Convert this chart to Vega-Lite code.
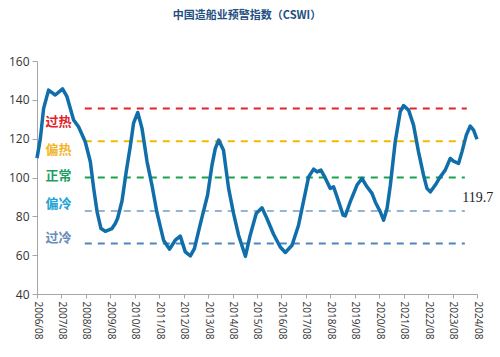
{
  "$schema": "https://vega.github.io/schema/vega-lite/v6.json",
  "width": 440,
  "height": 233,
  "autosize": {"type": "none"},
  "padding": {"left": 37, "top": 61, "right": 23, "bottom": 63},
  "background": "white",
  "config": {"view": {"stroke": null}, "axis": {"grid": false}},
  "title": {
    "text": "中国造船业预警指数（CSWI）",
    "font": "Noto Sans CJK SC",
    "fontSize": 11,
    "fontWeight": "bold",
    "color": "#1F4F82",
    "anchor": "middle",
    "dx": -10,
    "offset": 34
  },
  "datasets": {
    "cswi": [
      {"date": "2006-08-01", "v": 110},
      {"date": "2006-09-20", "v": 120},
      {"date": "2006-11-08", "v": 135.6},
      {"date": "2007-01-21", "v": 145},
      {"date": "2007-05-01", "v": 142.5},
      {"date": "2007-08-18", "v": 145.6},
      {"date": "2007-10-23", "v": 141.6},
      {"date": "2008-01-30", "v": 129.6},
      {"date": "2008-04-13", "v": 126.1},
      {"date": "2008-07-22", "v": 118.4},
      {"date": "2008-10-06", "v": 108.1},
      {"date": "2008-11-25", "v": 94.4},
      {"date": "2009-01-15", "v": 82.3},
      {"date": "2009-03-14", "v": 73.7},
      {"date": "2009-05-17", "v": 72.3},
      {"date": "2009-08-25", "v": 73.7},
      {"date": "2009-10-14", "v": 76.3},
      {"date": "2009-11-18", "v": 79},
      {"date": "2010-01-23", "v": 88},
      {"date": "2010-03-26", "v": 103},
      {"date": "2010-05-25", "v": 115.8},
      {"date": "2010-07-14", "v": 128},
      {"date": "2010-09-15", "v": 133.5},
      {"date": "2010-11-17", "v": 125.3},
      {"date": "2011-02-01", "v": 108.1},
      {"date": "2011-04-15", "v": 96},
      {"date": "2011-06-28", "v": 82},
      {"date": "2011-10-05", "v": 67.7},
      {"date": "2012-01-04", "v": 63.1},
      {"date": "2012-03-28", "v": 67.7},
      {"date": "2012-06-11", "v": 69.8},
      {"date": "2012-08-25", "v": 61.7},
      {"date": "2012-11-09", "v": 59.6},
      {"date": "2013-01-08", "v": 63.4},
      {"date": "2013-04-06", "v": 76},
      {"date": "2013-07-24", "v": 91},
      {"date": "2013-09-28", "v": 106.4},
      {"date": "2013-11-17", "v": 115},
      {"date": "2014-01-06", "v": 119.3},
      {"date": "2014-03-19", "v": 114},
      {"date": "2014-06-03", "v": 94.4},
      {"date": "2014-08-16", "v": 81.5},
      {"date": "2014-10-30", "v": 70.3},
      {"date": "2015-02-09", "v": 59.4},
      {"date": "2015-04-22", "v": 70.3},
      {"date": "2015-07-21", "v": 81.5},
      {"date": "2015-10-15", "v": 84.4},
      {"date": "2015-12-28", "v": 78.9},
      {"date": "2016-04-05", "v": 70.8},
      {"date": "2016-07-14", "v": 64.2},
      {"date": "2016-09-28", "v": 61.4},
      {"date": "2017-01-06", "v": 65.1},
      {"date": "2017-04-13", "v": 75.4},
      {"date": "2017-07-22", "v": 92},
      {"date": "2017-09-11", "v": 100.3},
      {"date": "2017-11-25", "v": 104.3},
      {"date": "2018-01-15", "v": 102.9},
      {"date": "2018-03-14", "v": 103.8},
      {"date": "2018-05-17", "v": 99.8},
      {"date": "2018-07-31", "v": 94.4},
      {"date": "2018-09-19", "v": 95.2},
      {"date": "2018-11-18", "v": 89.2},
      {"date": "2019-02-08", "v": 80.6},
      {"date": "2019-03-12", "v": 80.2},
      {"date": "2019-05-25", "v": 87.4},
      {"date": "2019-09-04", "v": 96.1},
      {"date": "2019-11-17", "v": 99.5},
      {"date": "2020-02-01", "v": 95.2},
      {"date": "2020-04-15", "v": 91.8},
      {"date": "2020-06-03", "v": 87.4},
      {"date": "2020-08-17", "v": 82.3},
      {"date": "2020-10-05", "v": 78},
      {"date": "2020-11-26", "v": 84},
      {"date": "2021-01-14", "v": 96},
      {"date": "2021-03-28", "v": 118.4},
      {"date": "2021-06-11", "v": 133.9},
      {"date": "2021-07-30", "v": 137},
      {"date": "2021-10-14", "v": 134.7},
      {"date": "2021-12-27", "v": 127},
      {"date": "2022-03-11", "v": 113.2},
      {"date": "2022-05-25", "v": 101.2},
      {"date": "2022-07-15", "v": 94.4},
      {"date": "2022-09-03", "v": 92.6},
      {"date": "2022-11-17", "v": 96.1},
      {"date": "2023-01-20", "v": 99.8},
      {"date": "2023-04-14", "v": 103.8},
      {"date": "2023-06-28", "v": 109.8},
      {"date": "2023-08-16", "v": 108.4},
      {"date": "2023-10-30", "v": 107.2},
      {"date": "2023-12-20", "v": 113.2},
      {"date": "2024-02-23", "v": 121.8},
      {"date": "2024-04-22", "v": 126.5},
      {"date": "2024-06-11", "v": 124.4},
      {"date": "2024-08-01", "v": 119.7}
    ],
    "levels": [
      {"zone": "过热", "date": "2008-07-15", "end": "2024-03-01", "v": 135.6},
      {"zone": "偏热", "date": "2008-07-15", "end": "2024-02-01", "v": 118.7},
      {"zone": "正常", "date": "2008-07-15", "end": "2024-02-01", "v": 100},
      {"zone": "偏冷", "date": "2008-07-15", "end": "2024-02-01", "v": 82.8},
      {"zone": "过冷", "date": "2008-07-15", "end": "2024-02-01", "v": 66}
    ],
    "labels": [
      {"zone": "过热", "date": "2007-06-20", "v": 128.7},
      {"zone": "偏热", "date": "2007-06-20", "v": 114},
      {"zone": "正常", "date": "2007-06-20", "v": 100.7},
      {"zone": "偏冷", "date": "2007-06-20", "v": 86.3},
      {"zone": "过冷", "date": "2007-06-20", "v": 68.7}
    ],
    "last": [
      {"date": "2023-12-25", "v": 89.3, "text": "119.7"}
    ]
  },
  "encoding": {
    "x": {"field": "date", "type": "temporal",
      "scale": {"type": "utc", "domain": [{"year": 2006, "month": 8, "date": 1, "utc": true}, {"year": 2024, "month": 8, "date": 1, "utc": true}], "nice": false},
      "axis": {
        "values": [
          {"year": 2006, "month": 8, "date": 1, "utc": true},
          {"year": 2007, "month": 8, "date": 1, "utc": true},
          {"year": 2008, "month": 8, "date": 1, "utc": true},
          {"year": 2009, "month": 8, "date": 1, "utc": true},
          {"year": 2010, "month": 8, "date": 1, "utc": true},
          {"year": 2011, "month": 8, "date": 1, "utc": true},
          {"year": 2012, "month": 8, "date": 1, "utc": true},
          {"year": 2013, "month": 8, "date": 1, "utc": true},
          {"year": 2014, "month": 8, "date": 1, "utc": true},
          {"year": 2015, "month": 8, "date": 1, "utc": true},
          {"year": 2016, "month": 8, "date": 1, "utc": true},
          {"year": 2017, "month": 8, "date": 1, "utc": true},
          {"year": 2018, "month": 8, "date": 1, "utc": true},
          {"year": 2019, "month": 8, "date": 1, "utc": true},
          {"year": 2020, "month": 8, "date": 1, "utc": true},
          {"year": 2021, "month": 8, "date": 1, "utc": true},
          {"year": 2022, "month": 8, "date": 1, "utc": true},
          {"year": 2023, "month": 8, "date": 1, "utc": true},
          {"year": 2024, "month": 8, "date": 1, "utc": true}
        ],
        "format": "%Y/%m",
        "labelAngle": 90,
        "labelFont": "Open Sans",
        "labelFontSize": 10,
        "labelColor": "#333333",
        "labelPadding": 3,
        "domainColor": "#A6A6A6",
        "tickColor": "#A6A6A6",
        "tickSize": 4,
        "labelOverlap": false,
        "labelBound": false,
        "title": null
      }
    },
    "y": {"field": "v", "type": "quantitative",
      "scale": {"domain": [40, 160], "nice": false},
      "axis": {
        "values": [40, 60, 80, 100, 120, 140, 160],
        "labelFont": "Open Sans",
        "labelFontSize": 12,
        "labelColor": "#333333",
        "domainColor": "#A6A6A6",
        "tickColor": "#A6A6A6",
        "tickSize": 5,
        "labelPadding": 3,
        "labelOverlap": false,
        "title": null
      }
    }
  },
  "layer": [
    {
      "data": {"name": "levels"},
      "mark": {"type": "rule", "strokeDash": [7, 6], "strokeWidth": 2},
      "encoding": {
        "x2": {"field": "end"},
        "color": {"field": "zone", "type": "nominal", "legend": null,
          "scale": {"domain": ["过热", "偏热", "正常", "偏冷", "过冷"], "range": ["#E3242B", "#F5B800", "#1AA34A", "#93B5D5", "#4F86BE"]}}
      }
    },
    {
      "data": {"name": "cswi"},
      "mark": {"type": "line", "color": "#106EAA", "strokeWidth": 3.5, "strokeJoin": "round"},
      "encoding": {}
    },
    {
      "data": {"name": "labels"},
      "mark": {"type": "text", "font": "Noto Sans CJK SC", "fontSize": 13, "fontWeight": "bold", "align": "center", "baseline": "middle"},
      "encoding": {
        "text": {"field": "zone"},
        "color": {"field": "zone", "type": "nominal", "legend": null,
          "scale": {"domain": ["过热", "偏热", "正常", "偏冷", "过冷"], "range": ["#E0232B", "#F2B52A", "#1E9F63", "#22A3D4", "#6A8DBA"]}}
      }
    },
    {
      "data": {"name": "last"},
      "mark": {"type": "text", "font": "Liberation Serif", "fontSize": 14, "align": "left", "baseline": "middle", "color": "#222222"},
      "encoding": {
        "text": {"field": "text"}
      }
    }
  ],
  "resolve": {"scale": {"color": "independent"}}
}
